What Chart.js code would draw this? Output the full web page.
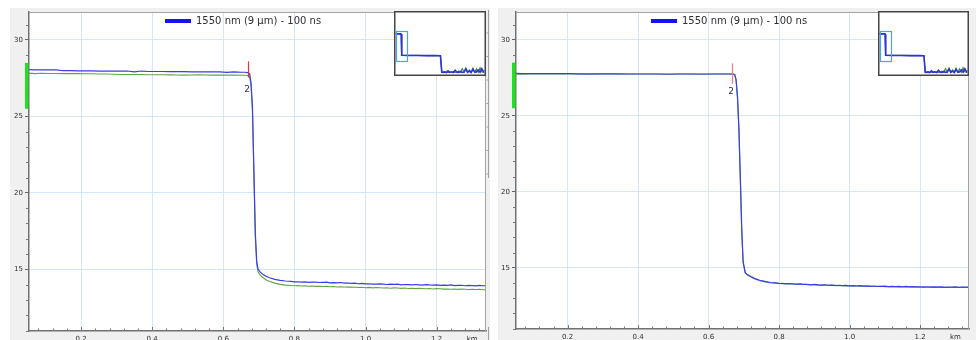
<!DOCTYPE html>
<html>
<head>
<meta charset="utf-8">
<title>OTDR trace</title>
<script src="https://cdn.jsdelivr.net/npm/chart.js@4.4.1/dist/chart.umd.min.js"></script>
<style>
  html, body { margin: 0; padding: 0; background: #fff; }
  body { width: 976px; height: 340px; overflow: hidden; position: relative; }
  .panel { position: absolute; top: 8px; height: 332px; background: #f0f0f0; }
  canvas { position: absolute; }
</style>
</head>
<body>
<div class="panel" style="left:10px;width:480px"></div>
<div class="panel" style="left:498px;width:478px"></div>
<canvas id="traceLeft" width="490" height="340" style="left:0;top:0"></canvas>
<canvas id="traceRight" width="486" height="340" style="left:490px;top:0"></canvas>
<canvas id="overviewLeft" width="92" height="65" style="left:394px;top:11px"></canvas>
<canvas id="overviewRight" width="91" height="65" style="left:878px;top:11px"></canvas>
<script>
// ---- trace data (distance in km, level in dB) ----
const seriesName = '1550 nm (9 µm) - 100 ns';

const distanceKm = [
  0.054, 0.07, 0.09, 0.11, 0.13, 0.15, 0.17, 0.19, 0.21, 0.23,
  0.25, 0.27, 0.29, 0.31, 0.33, 0.35, 0.37, 0.39, 0.41, 0.43,
  0.45, 0.47, 0.49, 0.51, 0.53, 0.55, 0.57, 0.59, 0.61, 0.63, 0.65,
  0.66, 0.668, 0.674, 0.678, 0.682, 0.686, 0.69, 0.694, 0.698, 0.704,
  0.71, 0.72, 0.73, 0.745, 0.76, 0.775,
  0.79, 0.80, 0.81, 0.82, 0.83, 0.84, 0.85, 0.86, 0.87, 0.88,
  0.89, 0.90, 0.91, 0.92, 0.93, 0.94, 0.95, 0.96, 0.97, 0.98,
  0.99, 1.00, 1.01, 1.02, 1.03, 1.04, 1.05, 1.06, 1.07, 1.08,
  1.09, 1.10, 1.11, 1.12, 1.13, 1.14, 1.15, 1.16, 1.17, 1.18,
  1.19, 1.20, 1.21, 1.22, 1.23, 1.24, 1.25, 1.26, 1.27, 1.28,
  1.29, 1.30, 1.31, 1.32, 1.33, 1.34
];

const leftBlue = [
  28.06, 28.05, 28.05, 28.04, 28.05, 27.99, 27.99, 27.98, 27.98, 27.98,
  27.97, 27.97, 27.97, 27.96, 27.97, 27.91, 27.97, 27.94, 27.94, 27.94,
  27.93, 27.93, 27.93, 27.92, 27.92, 27.92, 27.92, 27.91, 27.88, 27.91, 27.89,
  27.89, 27.87, 27.80, 27.2, 25.6, 21.5, 17.4, 15.5, 15.0, 14.82,
  14.7, 14.55, 14.45, 14.35, 14.28, 14.24,
  14.21, 14.18, 14.19, 14.17, 14.18, 14.15, 14.16, 14.17, 14.14, 14.15,
  14.16, 14.12, 14.13, 14.12, 14.14, 14.10, 14.11, 14.09, 14.10, 14.06,
  14.08, 14.05, 14.06, 14.04, 14.03, 14.05, 14.04, 14.01, 14.03, 14.02,
  14.03, 13.99, 14.01, 14.00, 13.98, 14.01, 13.99, 13.97, 14.00, 13.98,
  13.97, 13.99, 13.95, 13.97, 13.96, 13.98, 13.94, 13.95, 13.96, 13.93,
  13.95, 13.94, 13.92, 13.95, 13.93, 13.94
];

const leftGreen = [
  27.83, 27.80, 27.82, 27.81, 27.81, 27.80, 27.80, 27.80, 27.79, 27.79,
  27.78, 27.78, 27.76, 27.74, 27.74, 27.74, 27.74, 27.73, 27.73, 27.73,
  27.72, 27.71, 27.70, 27.71, 27.72, 27.71, 27.70, 27.70, 27.70, 27.70, 27.69,
  27.69, 27.68, 27.62, 27.0, 25.4, 21.3, 17.2, 15.3, 14.82, 14.62,
  14.48, 14.32, 14.2, 14.1, 14.02, 13.97,
  13.95, 13.93, 13.94, 13.91, 13.92, 13.90, 13.91, 13.89, 13.90, 13.88,
  13.89, 13.86, 13.88, 13.85, 13.86, 13.85, 13.84, 13.85, 13.83, 13.81,
  13.83, 13.80, 13.82, 13.79, 13.81, 13.80, 13.78, 13.80, 13.77, 13.79,
  13.78, 13.76, 13.78, 13.75, 13.77, 13.74, 13.76, 13.75, 13.73, 13.75,
  13.72, 13.74, 13.73, 13.71, 13.72, 13.70, 13.72, 13.69, 13.71, 13.70,
  13.68, 13.70, 13.68, 13.69, 13.67, 13.68
];

const rightBlue = [
  27.79, 27.78, 27.78, 27.78, 27.77, 27.77, 27.77, 27.77, 27.77, 27.76,
  27.76, 27.76, 27.76, 27.76, 27.76, 27.76, 27.75, 27.75, 27.75, 27.75,
  27.75, 27.75, 27.75, 27.75, 27.75, 27.75, 27.75, 27.75, 27.75, 27.75, 27.75,
  27.75, 27.75, 27.72, 27.4, 26.3, 24.2, 21.0, 17.6, 15.4, 14.68,
  14.55, 14.42, 14.3, 14.18, 14.1, 14.03,
  14.00, 13.97, 13.96, 13.95, 13.96, 13.93, 13.92, 13.94, 13.90, 13.91,
  13.88, 13.90, 13.87, 13.86, 13.88, 13.84, 13.86, 13.83, 13.85, 13.82,
  13.84, 13.81, 13.83, 13.80, 13.82, 13.79, 13.81, 13.78, 13.80, 13.78,
  13.77, 13.79, 13.76, 13.78, 13.76, 13.77, 13.75, 13.77, 13.74, 13.76,
  13.74, 13.75, 13.73, 13.75, 13.72, 13.74, 13.72, 13.74, 13.71, 13.73,
  13.72, 13.74, 13.71, 13.73, 13.72, 13.73
];

const rightGreen = [
  27.74, 27.73, 27.76, 27.76, 27.75, 27.76, 27.76, 27.76, 27.75, 27.75,
  27.73, 27.73, 27.75, 27.75, 27.75, 27.75, 27.75, 27.75, 27.75, 27.75,
  27.75, 27.73, 27.72, 27.75, 27.75, 27.75, 27.73, 27.73, 27.75, 27.75, 27.75,
  27.75, 27.74, 27.70, 27.3, 26.1, 24.0, 20.8, 17.4, 15.3, 14.65,
  14.52, 14.39, 14.27, 14.15, 14.07, 14.01,
  13.99, 13.96, 13.97, 13.94, 13.94, 13.94, 13.91, 13.92, 13.91, 13.89,
  13.89, 13.88, 13.86, 13.87, 13.85, 13.85, 13.84, 13.84, 13.82, 13.83,
  13.81, 13.80, 13.80, 13.81, 13.79, 13.79, 13.78, 13.79, 13.77, 13.77,
  13.78, 13.76, 13.76, 13.75, 13.76, 13.74, 13.75, 13.74, 13.74, 13.73,
  13.74, 13.72, 13.73, 13.72, 13.73, 13.71, 13.73, 13.71, 13.72, 13.71,
  13.70, 13.72, 13.70, 13.71, 13.70, 13.71
];

// whole-fibre overview shown in the thumbnail
const overviewKm = [
  0, 0.55, 0.64, 0.70, 1.5, 2.5, 3.5, 4.5, 5.05, 5.2,
  5.35, 5.5, 5.7, 5.9, 6.1, 6.3, 6.5, 6.7, 6.9, 7.1,
  7.3, 7.5, 7.7, 7.9, 8.1, 8.3, 8.5, 8.7, 8.9, 9.1,
  9.3, 9.5, 9.7, 9.9, 10.0
];
const overviewBlue = [
  30.0, 30.0, 29.8, 15.1, 15.0, 15.0, 14.9, 14.9, 14.8, 3.4,
  3.3, 3.6, 3.2, 4.4, 3.3, 3.7, 3.2, 4.8, 3.4, 3.3,
  3.9, 3.2, 3.5, 5.5, 3.3, 4.2, 3.2, 5.4, 3.4, 3.6,
  4.9, 3.3, 5.8, 3.5, 3.4
];
const overviewGreen = [
  30.0, 30.0, 29.8, 15.1, 15.0, 15.0, 14.9, 14.9, 14.8, 3.3,
  3.4, 3.2, 3.5, 3.3, 3.4, 3.2, 3.6, 3.3, 3.5, 4.1,
  3.3, 5.9, 3.4, 6.3, 3.5, 5.0, 3.3, 6.1, 3.4, 5.7,
  3.3, 6.4, 3.6, 3.4, 5.2
];

// axis ticks
const yTickValues = [15, 20, 25, 30];
const xTickValues = [0.2, 0.4, 0.6, 0.8, 1.0, 1.2];
const unitLabel = 'km';
const unitAtKm = 1.3;

// event marker
const eventLabel = '2';

// ---- styling ----
const BLUE = '#3b3bf2';
const GREEN = '#62a444';
const GRID = '#d4e7f7';
const AXIS = '#707070';
const TICK_FONT = { family: '"DejaVu Sans", Verdana, sans-serif', size: 7 };
const VIEW = { xMin: 0.0536, xMax: 1.3388, yMin: 10.97, yMax: 31.83 };
const Y_MINOR = 1, X_MINOR = 0.04;

const decor = {
  id: 'decor',
  beforeDraw(chart) {
    const { ctx, chartArea: a } = chart;
    ctx.save();
    ctx.fillStyle = '#fff';
    ctx.fillRect(a.left, a.top, a.right - a.left, a.bottom - a.top);
    ctx.restore();
  },
  afterDraw(chart, args, o) {
    const { ctx, chartArea: a } = chart;
    const x = chart.scales.x, y = chart.scales.y;
    ctx.save();

    // upper and right frame
    ctx.strokeStyle = '#a4a4a4';
    ctx.lineWidth = 1;
    ctx.beginPath();
    ctx.moveTo(a.left, a.top + 0.5);
    ctx.lineTo(a.right - 0.5, a.top + 0.5);
    ctx.lineTo(a.right - 0.5, a.bottom);
    ctx.stroke();

    // minor ticks on both axes, major ticks inside on x
    ctx.strokeStyle = '#777';
    ctx.beginPath();
    for (let v = Math.ceil(y.min); v <= y.max; v += Y_MINOR) {
      if (yTickValues.includes(v)) continue;
      const py = Math.round(y.getPixelForValue(v)) + 0.5;
      ctx.moveTo(a.left - 3, py); ctx.lineTo(a.left, py);
    }
    for (let k = 1; k * X_MINOR <= x.max; k++) {
      const v = k * X_MINOR;
      if (v < x.min) continue;
      const px = Math.round(x.getPixelForValue(v)) + 0.5;
      ctx.moveTo(px, a.bottom);
      ctx.lineTo(px, a.bottom - (k % 5 === 0 ? 4 : 2.5));
    }
    ctx.stroke();

    // level cursor on the y axis
    ctx.fillStyle = '#22e022';
    const c1 = y.getPixelForValue(o.cursorTop), c2 = y.getPixelForValue(o.cursorBottom);
    ctx.fillRect(a.left - 4, c1, 3.4, c2 - c1);

    // event marker
    const ex = Math.round(x.getPixelForValue(o.eventKm)) + 0.5;
    const e1 = y.getPixelForValue(o.eventTop), e2 = y.getPixelForValue(o.eventBottom);
    ctx.strokeStyle = o.eventColor;
    ctx.lineWidth = 1.2;
    ctx.beginPath(); ctx.moveTo(ex, e1); ctx.lineTo(ex, e2); ctx.stroke();
    ctx.fillStyle = '#333';
    ctx.font = '9px "DejaVu Sans", Verdana, sans-serif';
    ctx.textAlign = 'center';
    ctx.textBaseline = 'middle';
    ctx.fillText(eventLabel, ex - 1.5, e1 + 28);

    // legend
    ctx.strokeStyle = '#1212f5';
    ctx.lineWidth = 4;
    ctx.beginPath();
    ctx.moveTo(o.legendX, o.legendY); ctx.lineTo(o.legendX + 26, o.legendY);
    ctx.stroke();
    ctx.fillStyle = '#2e2e2e';
    ctx.font = '10px "DejaVu Sans", Verdana, sans-serif';
    ctx.textAlign = 'left';
    ctx.fillText(seriesName, o.legendX + 31, o.legendY + 0.5);

    // side ruler of the left view
    if (o.sideRule) {
      ctx.strokeStyle = '#a0a0a0';
      ctx.lineWidth = 1;
      ctx.beginPath();
      ctx.moveTo(488.5, 10); ctx.lineTo(488.5, 178);
      ctx.moveTo(488.5, 327); ctx.lineTo(488.5, 340);
      for (let t = 33; t < 178; t += 23.5) { ctx.moveTo(486.5, t); ctx.lineTo(488.5, t); }
      ctx.stroke();
    }
    ctx.restore();
  }
};

function traceChart(id, blue, green, padRight, yWidth, xHeight, deco) {
  return new Chart(document.getElementById(id), {
    type: 'line',
    data: {
      datasets: [
        { label: seriesName, data: distanceKm.map((d, i) => ({ x: d, y: blue[i] })),
          borderColor: BLUE, borderWidth: 1.2 },
        { label: seriesName, data: distanceKm.map((d, i) => ({ x: d, y: green[i] })),
          borderColor: GREEN, borderWidth: 1.1 }
      ]
    },
    options: {
      responsive: false,
      animation: false,
      devicePixelRatio: 1,
      events: [],
      layout: { padding: { left: 0, top: 12, right: padRight, bottom: 0 } },
      elements: { point: { radius: 0 }, line: { tension: 0 } },
      plugins: { legend: { display: false }, tooltip: { enabled: false }, decor: deco },
      scales: {
        x: {
          type: 'linear', min: VIEW.xMin, max: VIEW.xMax,
          afterBuildTicks: s => { s.ticks = xTickValues.concat([unitAtKm]).map(v => ({ value: v })); },
          afterFit: s => { s.height = xHeight; },
          ticks: {
            autoSkip: false, maxRotation: 0, padding: 4, color: '#2e2e2e', font: TICK_FONT,
            callback: v => (Math.abs(v - unitAtKm) < 1e-9 ? unitLabel : v.toFixed(1))
          },
          grid: {
            drawTicks: false,
            color: c => (c.tick && Math.abs(c.tick.value - unitAtKm) < 1e-9 ? 'rgba(0,0,0,0)' : GRID)
          },
          border: { color: AXIS, width: 1.5 }
        },
        y: {
          type: 'linear', min: VIEW.yMin, max: VIEW.yMax,
          afterBuildTicks: s => { s.ticks = yTickValues.map(v => ({ value: v })); },
          afterFit: s => { s.width = yWidth; },
          ticks: { autoSkip: false, padding: 2, color: '#2e2e2e', font: TICK_FONT },
          grid: { color: GRID, tickColor: '#666', tickLength: 4 },
          border: { color: AXIS, width: 1.5 }
        }
      }
    },
    plugins: [decor]
  });
}

const overviewFrame = {
  id: 'overviewFrame',
  beforeDraw(chart) {
    const { ctx, width, height } = chart;
    ctx.save(); ctx.fillStyle = '#fff'; ctx.fillRect(0, 0, width, height); ctx.restore();
  },
  afterDraw(chart) {
    const { ctx, width, height } = chart;
    const x = chart.scales.x, y = chart.scales.y;
    ctx.save();
    // current view window
    const x1 = x.getPixelForValue(VIEW.xMin), x2 = x.getPixelForValue(VIEW.xMax);
    const y1 = y.getPixelForValue(VIEW.yMax), y2 = y.getPixelForValue(VIEW.yMin);
    ctx.strokeStyle = '#4f9ff2';
    ctx.lineWidth = 1.2;
    ctx.strokeRect(Math.round(x1) + 0.5, Math.round(y1) + 0.5, Math.round(x2 - x1), Math.round(y2 - y1));
    ctx.strokeStyle = '#454545';
    ctx.lineWidth = 1.5;
    ctx.strokeRect(0.75, 0.75, width - 1.5, height - 1.5);
    ctx.restore();
  }
};

function overviewChart(id) {
  return new Chart(document.getElementById(id), {
    type: 'line',
    data: {
      datasets: [
        { data: overviewKm.map((d, i) => ({ x: d, y: overviewBlue[i] })), borderColor: '#2f2fe6', borderWidth: 1.6 },
        { data: overviewKm.map((d, i) => ({ x: d, y: overviewGreen[i] })), borderColor: '#3f8f2f', borderWidth: 1.2 }
      ]
    },
    options: {
      responsive: false,
      animation: false,
      devicePixelRatio: 1,
      events: [],
      layout: { padding: 1.5 },
      elements: { point: { radius: 0 }, line: { tension: 0 } },
      plugins: { legend: { display: false }, tooltip: { enabled: false } },
      scales: {
        x: { type: 'linear', display: false, min: 0, max: 10 },
        y: { type: 'linear', display: false, min: 1.8, max: 44.8 }
      }
    },
    plugins: [overviewFrame]
  });
}

traceChart('traceLeft', leftBlue, leftGreen, 4, 29, 9, {
  cursorTop: 28.5, cursorBottom: 25.5,
  eventKm: 0.67, eventTop: 28.6, eventBottom: 27.55, eventColor: '#e53333',
  legendX: 165, legendY: 21, sideRule: true
});
traceChart('traceRight', rightBlue, rightGreen, 7, 26, 11, {
  cursorTop: 28.5, cursorBottom: 25.5,
  eventKm: 0.667, eventTop: 28.45, eventBottom: 27.1, eventColor: '#f07c7c',
  legendX: 161, legendY: 21, sideRule: false
});
overviewChart('overviewLeft');
overviewChart('overviewRight');
</script>
</body>
</html>
